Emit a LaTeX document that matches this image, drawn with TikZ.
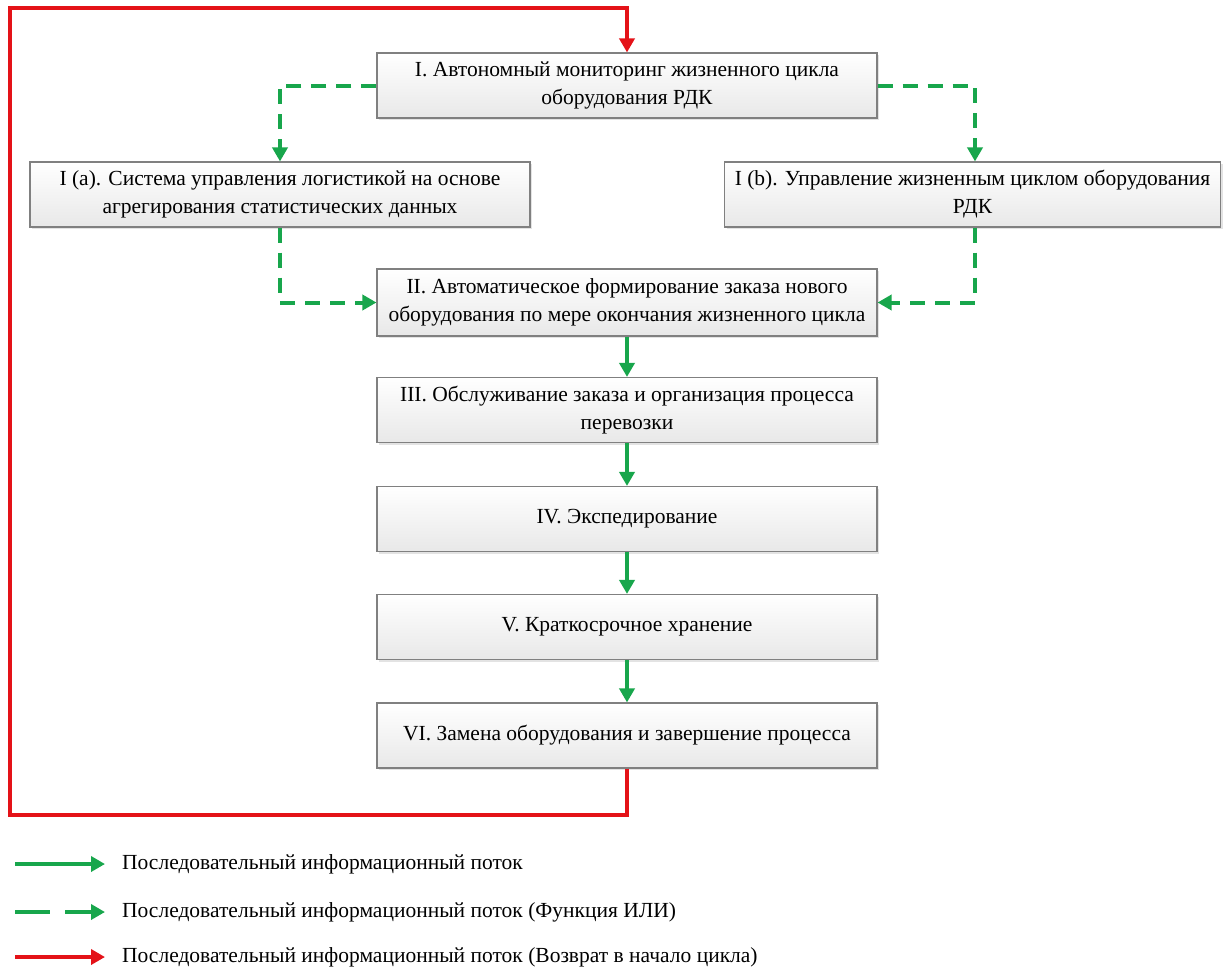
\documentclass[tikz,border=0pt]{standalone}
\usepackage{fontspec}
\setmainfont{Liberation Serif}
\usetikzlibrary{arrows.meta,shadows}

\definecolor{flowgreen}{RGB}{24,166,76}
\definecolor{flowred}{RGB}{228,18,24}
\definecolor{boxedge}{RGB}{128,128,128}

\tikzset{
  stage/.style={draw=boxedge, line width=1.1pt, top color=white, bottom color=black!9,
    drop shadow={opacity=0.22, shadow xshift=2pt, shadow yshift=-2pt},
    minimum width=500pt, minimum height=65pt, inner sep=2pt, align=center,
    font=\fontsize{21.5}{28}\selectfont},
  seqflow/.style={draw=flowgreen, line width=4pt,
    -{Triangle[width=15pt,length=14pt]}},
  orflow/.style={seqflow, dash pattern=on 15pt off 10pt},
  backflow/.style={draw=flowred, line width=4pt, line join=miter,
    -{Triangle[width=15pt,length=14pt]}},
  legendtext/.style={anchor=west, inner sep=0pt, font=\fontsize{21.5}{26}\selectfont}
}

\begin{document}
\begin{tikzpicture}[x=1pt, y=-1pt]
\useasboundingbox (0,0) rectangle (1223,969);

% process stages
\node[stage] (s1) at (627,85.5)
  {I. Автономный мониторинг жизненного цикла\\оборудования РДК};
\node[stage] (s1a) at (280,194.5)
  {I (a). Система управления логистикой на основе\\агрегирования статистических данных};
\node[stage, minimum width=496pt] (s1b) at (972.5,194.5)
  {I (b). Управление жизненным циклом оборудования\\РДК};
\node[stage, minimum height=67pt] (s2) at (627,302.5)
  {II. Автоматическое формирование заказа нового\\оборудования по мере окончания жизненного цикла};
\node[stage] (s3) at (627,410)
  {III. Обслуживание заказа и организация процесса\\перевозки};
\node[stage] (s4) at (627,519)
  {IV. Экспедирование};
\node[stage] (s5) at (627,627)
  {V. Краткосрочное хранение};
\node[stage] (s6) at (627,735.5)
  {VI. Замена оборудования и завершение процесса};

% branch columns and return loop corners
\coordinate (ja) at (280,0);
\coordinate (jb) at (975,0);
\coordinate (rb) at (10,815);
\coordinate (rt) at (10,8);

% OR branches
\draw[orflow] (s1.west) -- (s1.west -| ja) -- (s1a.north -| ja);
\draw[orflow] (s1.east) -- (s1.east -| jb) -- (s1b.north -| jb);
\draw[orflow] (s1a.south -| ja) |- (s2.west);
\draw[orflow] (s1b.south -| jb) |- (s2.east);

% sequential flow
\draw[seqflow] (s2) -- (s3);
\draw[seqflow] (s3) -- (s4);
\draw[seqflow] (s4) -- (s5);
\draw[seqflow] (s5) -- (s6);

% return to the start of the cycle
\draw[backflow] (s6.south) |- (rb) -- (rt) -| (s1.north);

% legend
\coordinate (l1a) at (15,864);  \coordinate (l1b) at (105,864);
\coordinate (l2a) at (15,912);  \coordinate (l2b) at (105,912);
\coordinate (l3a) at (15,957);  \coordinate (l3b) at (105,957);
\draw[seqflow] (l1a) -- (l1b);
\draw[seqflow, dash pattern=on 35pt off 15pt] (l2a) -- (l2b);
\draw[backflow] (l3a) -- (l3b);
\node[legendtext] (t1) at (122,864) {Последовательный информационный поток};
\node[legendtext] (t2) at (122,912) {Последовательный информационный поток (Функция ИЛИ)};
\node[legendtext] (t3) at (122,957) {Последовательный информационный поток (Возврат в начало цикла)};
\end{tikzpicture}
\end{document}
